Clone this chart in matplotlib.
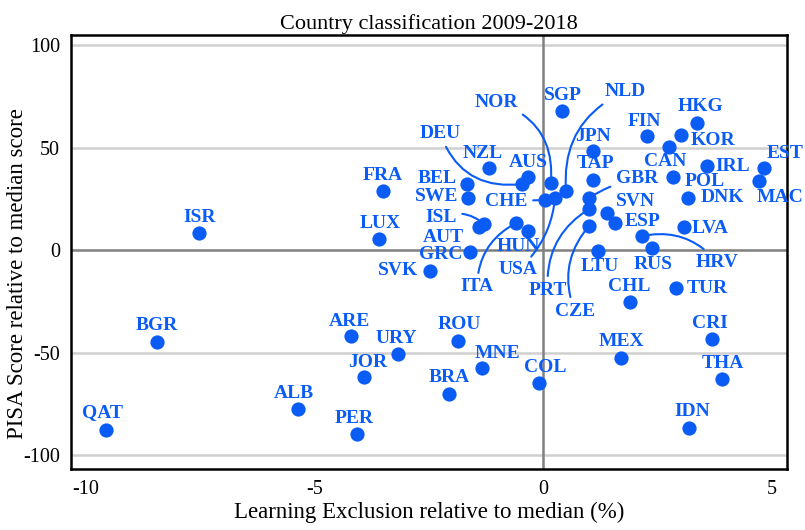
import matplotlib
matplotlib.use('Agg')
import matplotlib.pyplot as plt

# values
countries = ['QAT', 'BGR', 'ISR', 'ALB', 'PER', 'ARE', 'JOR', 'URY', 'ROU', 'MNE',
             'BRA', 'COL', 'MEX', 'CRI', 'THA', 'IDN', 'CHL', 'TUR', 'CZE', 'PRT',
             'USA', 'ITA', 'LTU', 'RUS', 'HRV', 'ESP', 'SVN', 'GBR', 'LVA', 'DNK',
             'POL', 'MAC', 'EST', 'IRL', 'CAN', 'KOR', 'HKG', 'FIN', 'NLD', 'SGP',
             'NOR', 'JPN', 'TAP', 'DEU', 'NZL', 'AUS', 'BEL', 'SWE', 'CHE', 'ISL',
             'AUT', 'GRC', 'HUN', 'SVK', 'FRA', 'LUX']
exclusion = [-9.56, -8.45, -7.53, -5.35, -4.06, -4.21, -3.91, -3.17, -1.86, -1.33,
             -2.05, -0.09, 1.70, 3.69, 3.91, 3.19, 1.90, 2.90, 1.00, 1.00,
             0.26, -0.59, 1.20, 2.38, 2.16, 1.57, 1.40, 1.00, 3.08, 3.17,
             2.84, 4.72, 4.83, 3.58, 2.75, 3.01, 3.36, 2.27, 0.50, 0.41,
             0.17, 1.09, 1.09, -0.46, -1.18, -0.33, -1.66, -1.64, 0.05, -1.29,
             -1.40, -1.59, -0.33, -2.47, -3.49, -3.58]
pisa = [-87.8, -44.9, 8.3, -77.6, -89.8, -42.0, -62.0, -50.7, -44.4, -57.6,
        -70.2, -64.9, -52.7, -43.4, -62.9, -86.8, -25.4, -18.5, 11.7, 20.0,
        25.4, 13.2, -0.5, 1.0, 6.8, 13.2, 18.0, 25.4, 11.2, 25.4,
        35.6, 33.7, 40.0, 41.0, 50.2, 56.0, 62.0, 55.6, 29.0, 67.8,
        32.7, 48.3, 34.1, 32.2, 40.0, 35.6, 32.2, 25.4, 24.4, 12.7,
        11.2, -1.0, 9.3, -10.2, 28.8, 5.4]

# label placement (offset in pixels from the dot) and leader lines
offsets = {
    'QAT': (-3, 18), 'BGR': (0, 17), 'ISR': (1, 16), 'ALB': (-4, 16), 'PER': (-3, 16),
    'ARE': (-1, 15), 'JOR': (3, 15), 'URY': (-2, 15), 'ROU': (1, 17), 'MNE': (15, 15),
    'BRA': (0, 16), 'COL': (6, 16), 'MEX': (1, 17), 'CRI': (-2, 16), 'THA': (1, 15),
    'IDN': (3, 16), 'CHL': (-1, 16), 'TUR': (31, -1), 'CZE': (-14, -85), 'PRT': (-41, -81),
    'USA': (-37, -72), 'ITA': (-39, -64), 'LTU': (2, -15), 'RUS': (1, -17), 'HRV': (75, -26),
    'ESP': (28, 1), 'SVN': (28, 12), 'GBR': (48, 19), 'LVA': (26, -1), 'DNK': (34, 0),
    'POL': (32, -4), 'MAC': (21, -17), 'EST': (21, 15), 'IRL': (26, -1), 'CAN': (-4, -14),
    'KOR': (32, -5), 'HKG': (4, 16), 'FIN': (-3, 15), 'NLD': (59, 99), 'SGP': (1, 16),
    'NOR': (-55, 81), 'JPN': (0, 15), 'TAP': (2, 17), 'DEU': (-82, 51), 'NZL': (-6, 15),
    'AUS': (0, 15), 'BEL': (-30, 6), 'SWE': (-31, 1), 'CHE': (-39, -1), 'ISL': (-43, 7),
    'AUT': (-36, -10), 'GRC': (-30, -2), 'HUN': (-10, -16), 'SVK': (-32, 0), 'FRA': (-1, 15),
    'LUX': (1, 15),
}
leaders = {'CZE': -0.3, 'PRT': -0.3, 'USA': 0.2, 'ITA': -0.3, 'HRV': 0.3, 'GBR': 0.1,
           'NLD': 0.35, 'NOR': -0.4, 'DEU': 0.4, 'CHE': 0.0, 'ISL': -0.3}

blue = '#0a5cf5'
plt.rcParams['font.family'] = ['Liberation Serif', 'DejaVu Serif']

fig = plt.figure(figsize=(8.05, 5.3), dpi=100)
ax = fig.add_axes([0.0882, 0.1151, 0.8894, 0.8189])

for yv in [-100, -50, 50, 100]:
    ax.axhline(yv, color='#d0d0d0', lw=1.8, zorder=0)
ax.axhline(0, color='#808080', lw=1.8, zorder=1)
ax.axvline(0, color='#808080', lw=1.8, zorder=1)

ax.scatter(exclusion, pisa, s=105, color=blue, zorder=3, linewidths=0)

for name, xv, yv in zip(countries, exclusion, pisa):
    dx, dy = offsets[name]
    props = None
    if name in leaders:
        props = dict(arrowstyle='-', color=blue, lw=1.5, shrinkA=2, shrinkB=0,
                     connectionstyle='arc3,rad=%s' % leaders[name])
    ax.annotate(name, (xv, yv), xytext=(dx, dy), textcoords='offset pixels',
                ha='center', va='center', color=blue, fontsize=14, fontweight='bold',
                arrowprops=props, zorder=4)

ax.set_xlim(-10.32, 5.33)
ax.set_ylim(-106.8, 104.9)
ax.set_xticks([-10, -5, 0, 5])
ax.set_yticks([-100, -50, 0, 50, 100])
ax.set_xticklabels(['-10', '-5', '0', '5'])
ax.set_yticklabels(['-100', '-50', '0', '50', '100'])
ax.tick_params(length=0, labelsize=14.5, pad=8)
for sp in ax.spines.values():
    sp.set_linewidth(1.8)

ax.set_xlabel('Learning Exclusion relative to median (%)', fontsize=16.5, labelpad=2)
ax.set_ylabel('PISA Score relative to median score', fontsize=16.5)
ax.yaxis.set_label_coords(-0.06, 0.45)
ax.set_title('Country classification 2009-2018', fontsize=16, pad=4)

fig.savefig('out.png', dpi=100)
